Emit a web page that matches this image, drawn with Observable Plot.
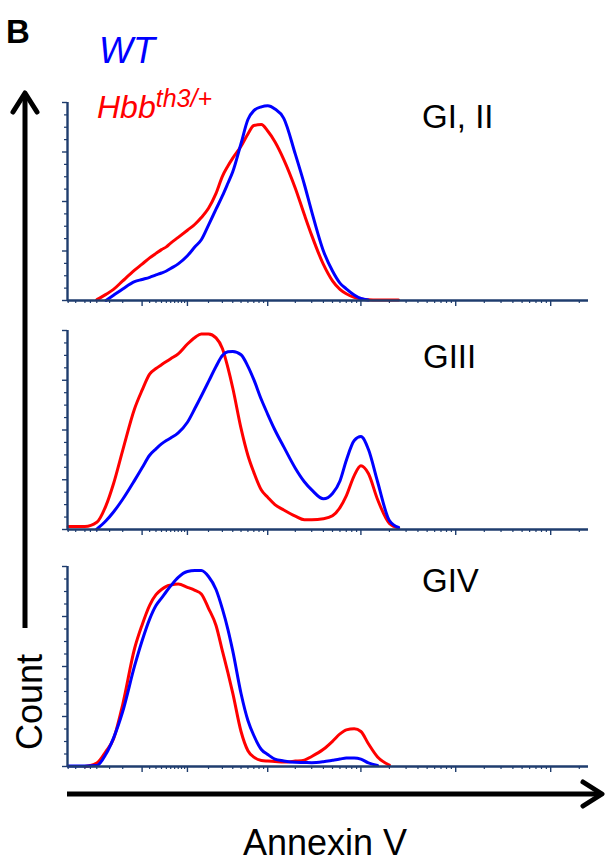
<!DOCTYPE html>
<html><head><meta charset="utf-8">
<script src="https://cdn.jsdelivr.net/npm/d3@7"></script>
<script src="https://cdn.jsdelivr.net/npm/@observablehq/plot@0.6"></script>
<style>
html,body{margin:0;padding:0;background:#fff;overflow:hidden}
#fig{position:relative;width:606px;height:866px;font-family:"Liberation Sans",Arial,sans-serif;background:#fff}
.panel{position:absolute;left:0}
#overlay{position:absolute;left:0;top:0;pointer-events:none}
</style></head><body><div id="fig"></div>
<script>
// Annexin V intensity (symlog display axis, FlowJo-like)
const annexin = [-250, -150, -100, -70, -50, -30, -10, 0, 10, 20, 30, 40, 50, 70, 100, 130, 160, 200, 250, 300, 350, 400, 500, 600, 700, 850, 1000, 1200, 1500, 2000, 2500, 3000, 4000, 5000, 6000, 7000, 8500, 10000, 12000, 15000, 20000, 25000, 30000];

// Count, % of panel maximum
const g12_hbb = [null, null, 0.4, 3.1, 5.6, 9.9, 15.3, 18.4, 21.5, 23.8, 25.7, 27.1, 29.0, 31.9, 35.5, 38.5, 41.9, 46.6, 54.1, 62.7, 67.9, 71.9, 77.9, 84.1, 88.4, 88.9, 85.6, 80.2, 71.2, 56.7, 43.4, 32.9, 18.2, 9.9, 5.6, 3.4, 1.6, 0.8, 0.4, 0.3, 0.3, 0.3, null];
const g12_wt  = [null, null, null, 0, 2.6, 5.8, 9.5, 10.6, 11.7, 12.9, 13.9, 14.9, 16.2, 18.5, 22.6, 27.1, 30.7, 38.1, 46.1, 52.8, 59.2, 65.0, 79.3, 91.4, 95.9, 97.8, 98.3, 96.7, 92.0, 73.9, 58.7, 44.9, 25.0, 14.9, 8.8, 5.9, 2.8, 1.0, 0.2, null, null, null, null];

const g3_hbb = [1.5, 1.5, 3.6, 12.0, 23.0, 39.8, 60.7, 70.0, 78.1, 80.9, 82.8, 84.4, 85.8, 88.3, 93.2, 96.5, 98.3, 98.3, 96.3, 91.0, 81.3, 71.1, 50.8, 37.2, 28.7, 19.8, 16.2, 12.5, 9.8, 6.7, 4.9, 4.9, 5.4, 6.9, 11.0, 16.9, 27.1, 32.0, 28.1, 15.1, 3.1, 0.8, null];
const g3_wt  = [null, null, 0.2, 4.4, 8.8, 15.2, 24.7, 31.0, 37.3, 40.5, 43.0, 44.7, 46.0, 48.6, 53.9, 60.9, 67.1, 74.3, 81.9, 87.4, 89.3, 89.5, 87.8, 82.0, 75.3, 65.3, 57.9, 50.0, 41.5, 30.8, 24.0, 19.9, 15.4, 18.1, 24.4, 34.7, 44.7, 46.7, 40.3, 24.0, 4.5, 1.0, null];

const g4_hbb = [null, 0, 1.7, 7.6, 13.8, 31.0, 59.0, 70.8, 80.6, 85.9, 88.5, 90.1, 90.7, 91.2, 89.6, 88.1, 86.3, 79.1, 70.5, 57.8, 46.9, 36.7, 17.5, 7.9, 4.7, 3.0, 2.7, 2.5, 2.2, 2.7, 3.2, 5.0, 8.6, 12.6, 16.3, 18.3, 18.9, 17.5, 11.4, 4.8, 0.7, null, null];
const g4_wt  = [0.3, 0.3, 0.5, 6.2, 14.2, 27.5, 50.3, 62.9, 73.7, 80.5, 84.2, 87.5, 90.3, 94.6, 97.5, 98.0, 98.0, 95.0, 88.5, 78.8, 68.6, 57.8, 36.5, 23.0, 15.5, 8.5, 6.0, 3.7, 2.8, 2.1, 2.0, 1.9, 2.4, 3.1, 3.7, 4.3, 4.3, 3.7, 1.8, 0.5, null, null, null];

const panelNames = ["GI, II", "GIII", "GIV"];
const seriesNames = ["WT", "Hbb"];

// tick positions (no labels)
const xMajorTicks = [0, 100, 1000, 10000, 100000, 1000000];
const xMinorTicks = [-250, -200, -150, -125, -100, -60, -30,
  10, 20, 30, 40, 50, 60, 70, 80, 90,
  200, 300, 400, 500, 600, 700, 800, 900,
  2000, 3000, 4000, 5000, 6000, 7000, 8000, 9000,
  20000, 30000, 40000, 50000, 60000, 70000, 80000, 90000,
  200000, 300000, 400000, 500000, 600000, 700000, 800000, 900000, 2000000];
const yMajorTicks = [0, 25, 50, 75, 100];
const yMinorTicks = [6.25, 12.5, 18.75, 31.25, 37.5, 43.75, 56.25, 62.5, 68.75, 81.25, 87.5, 93.75];

const NAVY = "#1f3d6e", RED = "#ff0000", BLUE = "#0000ff";
const xDomain = [-255, 2.5e6];

function toRows(vals) {
  return annexin.map((x, i) => ({x, y: vals[i]})).filter(d => d.y != null);
}

const fig = document.getElementById("fig");
const panels = [
  {top: 102, h: 198, wt: g12_wt, hbb: g12_hbb},
  {top: 330, h: 199, wt: g3_wt, hbb: g3_hbb},
  {top: 566, h: 200, wt: g4_wt, hbb: g4_hbb}
];
const mT = 4, mB = 14;
panels.forEach(p => {
  const chart = Plot.plot({
    width: 606, height: p.h + mT + mB,
    marginLeft: 67, marginRight: 18, marginTop: mT, marginBottom: mB,
    style: {background: "transparent", overflow: "visible"},
    x: {type: "symlog", constant: 50, domain: xDomain},
    y: {domain: [0, 100]},
    marks: [
      Plot.axisX(xMinorTicks, {tickSize: 3, stroke: NAVY, strokeWidth: 1.2, fill: "none", label: null}),
      Plot.axisX(xMajorTicks, {tickSize: 6, stroke: NAVY, strokeWidth: 1.4, fill: "none", label: null}),
      Plot.axisY(yMinorTicks, {tickSize: 3, stroke: NAVY, strokeWidth: 1.2, fill: "none", label: null}),
      Plot.axisY(yMajorTicks, {tickSize: 5, stroke: NAVY, strokeWidth: 1.4, fill: "none", label: null}),
      Plot.line(toRows(p.hbb), {x: "x", y: "y", stroke: RED, strokeWidth: 3, curve: "monotone-x"}),
      Plot.line(toRows(p.wt), {x: "x", y: "y", stroke: BLUE, strokeWidth: 3, curve: "monotone-x"}),
      Plot.ruleY([0], {stroke: NAVY, strokeWidth: 2.4}),
      Plot.ruleX([xDomain[0]], {y1: 0, y2: 100, stroke: NAVY, strokeWidth: 2.4})
    ]
  });
  chart.classList.add("panel");
  chart.style.top = (p.top - mT) + "px";
  chart.style.position = "absolute";
  fig.appendChild(chart);
});

// overlay: arrows and labels
const svg = d3.select(fig).append("svg").attr("id", "overlay").attr("width", 606).attr("height", 866)
  .style("font-family", '"Liberation Sans", Arial, sans-serif');
const arrowStyle = s => s.attr("fill", "none").attr("stroke", "#000").attr("stroke-width", 5);
svg.append("line").attr("x1", 25).attr("y1", 628).attr("x2", 25).attr("y2", 94).call(arrowStyle);
svg.append("polyline").attr("points", "13,112 25,93 37,112").call(arrowStyle)
  .attr("stroke-linejoin", "round").attr("stroke-linecap", "round");
svg.append("line").attr("x1", 67).attr("y1", 794).attr("x2", 600).attr("y2", 794).call(arrowStyle);
svg.append("polyline").attr("points", "583,782 602,794 583,806").call(arrowStyle)
  .attr("stroke-linejoin", "round").attr("stroke-linecap", "round");

svg.append("text").attr("x", 6).attr("y", 43).attr("font-size", 33).attr("font-weight", "bold").text("B");
svg.append("text").attr("x", 99).attr("y", 63).attr("font-size", 36).attr("font-style", "italic")
  .attr("fill", BLUE).text(seriesNames[0]);
const h = svg.append("text").attr("x", 97).attr("y", 118).attr("font-size", 32).attr("font-style", "italic").attr("fill", RED);
h.append("tspan").text(seriesNames[1]);
h.append("tspan").attr("font-size", 25).attr("dy", -11).text("th3/+");

[[422, 128], [423, 368], [422, 592]].forEach(([x, y], i) => {
  svg.append("text").attr("x", x).attr("y", y).attr("font-size", 33).text(panelNames[i]);
});
svg.append("text").attr("transform", "translate(42,750) rotate(-90)").attr("font-size", 36).text("Count");
svg.append("text").attr("x", 243).attr("y", 855).attr("font-size", 36).text("Annexin V");
</script></body></html>
